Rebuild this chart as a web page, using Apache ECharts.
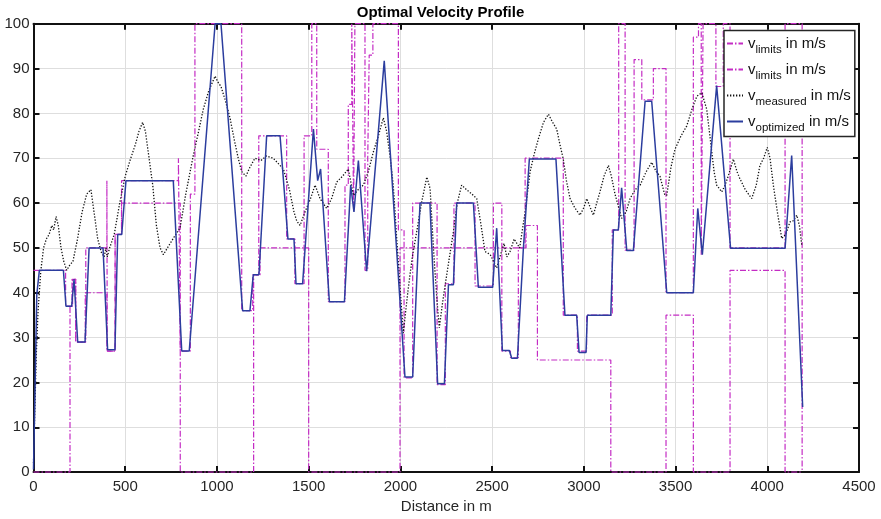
<!DOCTYPE html>
<html>
<head>
<meta charset="utf-8">
<script src="https://cdn.jsdelivr.net/npm/echarts@6/dist/echarts.min.js"></script>
<style>html,body{margin:0;padding:0;background:#fff;}#c{width:881px;height:519px;}</style>
</head>
<body>
<div id="c"></div>
<script>
// ---- data (distance in m, speed in m/s) ----
const xTicks = [0, 500, 1000, 1500, 2000, 2500, 3000, 3500, 4000, 4500];
const yTicks = [0, 10, 20, 30, 40, 50, 60, 70, 80, 90, 100];

const limitsA = [[0,45],[175,45],[175,37],[210,37],[210,43],[230,43],[230,29],[285,29],[285,50],[400,50],[400,65],[402,65],[402,27],[445,27],[445,53],[480,53],[480,65],[790,65],[790,70],[800,70],[800,27],[855,27],[855,62],[880,62],[880,100],[1135,100],[1135,36],[1195,36],[1195,44],[1228,44],[1228,75],[1380,75],[1380,52],[1425,52],[1425,42],[1475,42],[1475,75],[1517,75],[1517,100],[1544,100],[1544,72],[1607,72],[1607,38],[1698,38],[1698,64],[1716,64],[1716,82],[1735,82],[1735,100],[1745,100],[1745,58],[1752,58],[1752,100],[1807,100],[1807,45],[1822,45],[1822,70],[1830,70],[1830,93],[1850,93],[1850,100],[1989,100],[1989,54],[2020,54],[2020,21],[2067,21],[2067,60],[2200,60],[2200,19.5],[2245,19.5],[2245,42],[2292,42],[2292,60],[2407,60],[2407,41.5],[2507,41.5],[2507,60],[2553,60],[2553,27],[2600,27],[2600,25.5],[2643,25.5],[2643,50],[2680,50],[2680,70],[2888,70],[2888,35],[2965,35],[2965,27],[3015,27],[3015,35],[3155,35],[3155,54],[3190,54],[3190,100],[3225,100],[3225,49.5],[3274,49.5],[3274,92],[3316,92],[3316,83],[3379,83],[3379,90],[3448,90],[3448,40],[3597,40],[3597,97],[3625,97],[3625,100],[3640,100],[3640,48.5],[3650,48.5],[3650,100],[3720,100],[3720,86],[3760,86],[3760,100],[3797,100],[3797,50],[4097,50],[4097,100],[4190,100],[4190,0]];

const limitsB = [[0,0],[199,0],[199,37],[213,37],[213,43],[230,43],[230,29],[282,29],[282,40],[400,40],[400,27],[445,27],[445,53],[480,53],[480,60],[800,60],[800,0],[1200,0],[1200,44],[1235,44],[1235,50],[1500,50],[1500,0],[1998,0],[1998,50],[2685,50],[2685,55],[2747,55],[2747,25],[3147,25],[3147,0],[3448,0],[3448,35],[3597,35],[3597,0],[3797,0],[3797,45],[4097,45],[4097,0],[4193,0]];

const measured = [[0,2],[8,15],[15,26],[25,36],[40,45],[55,50],[70,52],[85,53],[100,55],[110,54],[123,57],[135,55],[150,50],[165,47],[181,45],[195,46],[215,47],[240,52],[265,58],[290,62],[313,63],[330,58],[350,52],[370,49],[385,48],[395,50],[402,48],[415,50],[440,53],[470,60],[500,66],[530,70],[555,73],[575,76],[595,78],[610,76],[630,70],[650,64],[670,55],[690,50],[708,48.5],[730,50],[760,52],[799,54.5],[830,62],[871,70.6],[900,76],[926,81],[955,85],[990,88.3],[1005,87],[1022,86],[1045,83],[1071,79],[1095,74],[1116,70],[1135,67],[1158,66],[1180,68],[1207,70],[1240,69.5],[1270,70.5],[1307,70],[1330,69],[1362,67.6],[1395,63],[1420,58],[1435,56],[1453,55],[1480,58],[1510,61],[1535,64],[1562,61],[1598,58.8],[1625,61],[1653,64.7],[1685,66],[1716,67.6],[1744,61.7],[1770,63],[1798,64],[1825,67],[1852,71.3],[1880,75],[1907,79],[1925,76],[1945,70],[1961,64],[1980,52],[2000,40],[2016,31],[2040,40],[2065,48],[2089,53.6],[2115,60],[2144,65.8],[2162,63.2],[2180,50],[2200,38],[2212,32.2],[2234,39],[2260,46],[2289,53.6],[2310,60],[2334,64],[2360,63],[2390,62],[2416,61],[2440,55],[2461,49.2],[2490,48.5],[2525,45.5],[2550,49],[2565,51],[2580,48],[2598,49.2],[2620,52],[2650,50],[2680,58],[2707,67],[2730,71],[2752,74.3],[2780,78],[2807,79.8],[2830,78],[2852,76.5],[2870,73],[2888,69.8],[2905,65],[2925,61],[2950,59],[2979,57.3],[3000,59],[3016,61],[3035,59],[3052,57.3],[3070,60],[3088,62.5],[3110,66],[3134,68.4],[3150,66],[3170,62],[3206,56.6],[3230,58],[3252,61],[3280,63],[3307,64],[3340,67],[3370,69.1],[3395,67],[3415,66],[3440,62],[3452,61.7],[3475,68],[3497,72],[3530,75],[3561,77.2],[3590,81],[3616,83.8],[3643,84.6],[3670,80.9],[3690,74],[3710,67],[3724,64],[3752,62.5],[3770,64],[3788,66.1],[3815,69.8],[3835,67],[3851,65.4],[3880,63],[3915,61],[3940,64],[3960,68.4],[3980,70],[4000,72.4],[4015,70],[4033,64],[4055,58],[4079,52.1],[4100,53],[4124,55.8],[4140,56],[4161,57.3],[4175,55],[4188,50.7]];

const optimized = [[0,0.6],[18,39.6],[32,45],[163,45],[177,37],[208,37],[221,43],[241,29],[281,29],[303,50],[379,50],[404,27.3],[444,27.3],[459,53],[481,53],[504,65],[762,65],[808,27],[849,27],[990,100],[1022,100],[1140,36],[1180,36],[1198,44],[1229,44],[1271,75],[1344,75],[1387,52],[1420,52],[1431,42],[1467,42],[1526,76.5],[1549,65],[1565,67.6],[1613,38],[1695,38],[1729,64],[1747,58],[1771,69.5],[1816,44.8],[1912,91.7],[2025,21.2],[2067,21.2],[2107,60],[2161,60],[2203,19.7],[2240,19.7],[2262,41.8],[2289,41.8],[2307,60],[2398,60],[2425,41.2],[2503,41.2],[2525,54.4],[2556,27.1],[2594,27.1],[2607,25.4],[2638,25.4],[2670,49.6],[2703,69.8],[2848,69.8],[2897,35],[2961,35],[2974,26.7],[3012,26.7],[3019,35],[3147,35],[3161,54],[3188,54],[3206,63.4],[3234,49.4],[3270,49.4],[3334,82.7],[3370,82.7],[3452,40],[3597,40],[3621,58.8],[3646,48.5],[3724,86.2],[3800,49.9],[4097,49.9],[4133,70.6],[4193,14.5]];

const seriesNames = ['limitsA', 'limitsB', 'measured', 'optimized'];
const legendSubs = {limitsA: 'limits', limitsB: 'limits', measured: 'measured', optimized: 'optimized'};

// ---- chart ----
const FONT = '"Liberation Sans", Arial, Helvetica, sans-serif';
const MAG = '#c42cc4';
const chart = echarts.init(document.getElementById('c'), null, {renderer: 'canvas'});
const limitStyle = {color: MAG, width: 1.2, type: [6, 2, 1.5, 2]};

chart.setOption({
  animation: false,
  backgroundColor: '#fff',
  title: {
    text: 'Optimal Velocity Profile',
    left: 'center', top: 5, padding: 0,
    textStyle: {fontFamily: FONT, fontSize: 15, fontWeight: 'bold', color: '#000'}
  },
  grid: {left: 33.5, right: 22, top: 23.7, bottom: 43.3, containLabel: false},
  legend: {
    data: seriesNames,
    orient: 'vertical',
    left: 724, top: 30.5,
    padding: [0, 4, 2, 2],
    itemGap: 0,
    itemWidth: 16, itemHeight: 14,
    backgroundColor: '#fff',
    borderColor: '#262626', borderWidth: 1.5, borderRadius: 0,
    itemStyle: {color: 'rgba(0,0,0,0)', borderColor: 'rgba(0,0,0,0)', borderWidth: 0},
    formatter: function (n) { return '{a|v}{b|' + legendSubs[n] + '}{a| in m/s}'; },
    textStyle: {
      fontFamily: FONT, color: '#111',
      rich: {
        a: {fontFamily: FONT, fontSize: 15, lineHeight: 14, padding: [5.5, 0, 5.5, 0], color: '#111'},
        b: {fontFamily: FONT, fontSize: 11.5, lineHeight: 12, padding: [13, 0, 0, 0], color: '#111'}
      }
    }
  },
  xAxis: [{
    type: 'value', min: 0, max: 4500, interval: 500,
    name: 'Distance in m', nameLocation: 'middle', nameGap: 25,
    nameTextStyle: {fontFamily: FONT, fontSize: 15, color: '#262626'},
    axisLine: {show: true, onZero: false, lineStyle: {color: '#111', width: 2}},
    axisTick: {show: true, inside: true, length: 6, lineStyle: {color: '#111', width: 2}},
    axisLabel: {fontFamily: FONT, fontSize: 15, color: '#262626', margin: 7,
      formatter: v => xTicks.includes(v) ? String(v) : ''},
    splitLine: {show: true, lineStyle: {color: '#dedede', width: 1}}
  }, {
    type: 'value', min: 0, max: 4500, interval: 500, position: 'top',
    axisLine: {show: true, onZero: false, lineStyle: {color: '#111', width: 2}},
    axisTick: {show: true, inside: true, length: 6, lineStyle: {color: '#111', width: 2}},
    axisLabel: {show: false}, splitLine: {show: false}
  }],
  yAxis: [{
    type: 'value', min: 0, max: 100, interval: 10,
    axisLine: {show: true, onZero: false, lineStyle: {color: '#111', width: 2}},
    axisTick: {show: true, inside: true, length: 6, lineStyle: {color: '#111', width: 2}},
    axisLabel: {fontFamily: FONT, fontSize: 15, color: '#262626', margin: 4,
      formatter: v => yTicks.includes(v) ? String(v) : ''},
    splitLine: {show: true, lineStyle: {color: '#dedede', width: 1}}
  }, {
    type: 'value', min: 0, max: 100, interval: 10, position: 'right',
    axisLine: {show: true, onZero: false, lineStyle: {color: '#111', width: 2}},
    axisTick: {show: true, inside: true, length: 6, lineStyle: {color: '#111', width: 2}},
    axisLabel: {show: false}, splitLine: {show: false}
  }],
  series: [
    {name: 'limitsA', type: 'line', data: limitsA, symbol: 'none', lineStyle: limitStyle, itemStyle: {color: MAG}, z: 2},
    {name: 'limitsB', type: 'line', data: limitsB, symbol: 'none', lineStyle: limitStyle, itemStyle: {color: MAG}, z: 2},
    {name: 'measured', type: 'line', data: measured, symbol: 'none',
      lineStyle: {color: '#111', width: 1.3, type: [1.3, 1.7]}, itemStyle: {color: '#111'}, z: 3},
    {name: 'optimized', type: 'line', data: optimized, symbol: 'none',
      lineStyle: {color: '#2b3d9e', width: 1.5}, itemStyle: {color: '#2b3d9e'}, z: 4}
  ]
});
</script>
</body>
</html>
